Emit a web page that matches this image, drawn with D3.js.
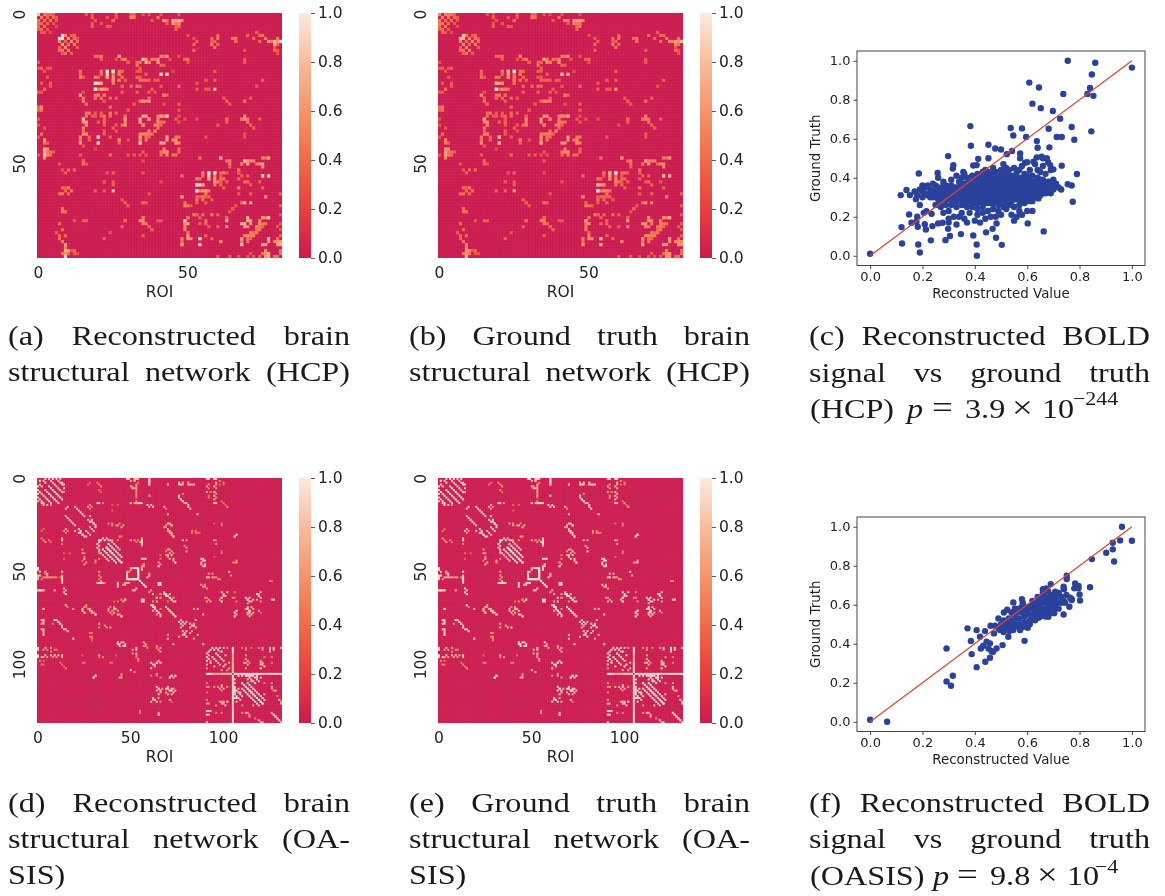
<!DOCTYPE html>
<html>
<head>
<meta charset="utf-8">
<script src="https://cdn.jsdelivr.net/npm/d3@7"></script>
<style>
body { margin: 0; background: #fff; }
svg { display: block; filter: blur(0.45px); }
</style>
</head>
<body>
<div id="charts"></div>
<script>
// matrix sizes
var hcpSize = 82;
var oasisSize = 132;

// [row, col, reconstructed, ground truth], matrices are symmetric so each pair is listed once
var hcpCells = [
[0,0,.85,.55],[0,2,.45,.5],[0,3,.5,.55],[0,4,.4,.45],[1,1,.5,.5],[1,3,.4,.45],[1,5,.4,.4],[1,6,.3,.35],[2,2,.4,.4],[2,4,.45,.45],[3,3,.35,.4],[3,5,.3,.3],[2,6,.3,.3],[4,6,.25,.25],[3,0,.4,.45],[5,0,.35,.35],
[7,8,1,.85],[7,9,.55,.5],[8,8,.9,.75],[8,10,.65,.55],[8,12,.45,.45],[9,9,.4,.4],[9,11,.6,.55],[9,13,.45,.45],[10,10,.45,.4],[10,12,.5,.5],[7,11,.35,.35],[12,7,.4,.4],[12,8,.45,.45],[13,8,.3,.35],[11,13,.35,.35],
[0,16,.3,.3],[0,18,.3,.3],[0,26,.35,.35],[0,31,.4,.4],[0,32,.4,.4],[0,37,.3,.3],[0,41,.3,.3],[0,47,.3,.3],[1,18,.35,.35],[1,23,.3,.3],[1,26,.3,.3],[1,31,.45,.45],[2,19,.3,.3],[2,25,.3,.3],[2,42,.45,.45],[2,43,.45,.45],[2,45,.3,.3],[2,46,.7,.65],[2,47,.7,.65],[2,48,.6,.55],[3,18,.3,.3],[3,46,.45,.45],[3,47,.45,.45],[3,43,.35,.35],[4,24,.3,.3],[4,47,.45,.45],[4,46,.4,.4],[4,23,.35,.35],[5,46,.35,.35],
[7,70,.4,.4],[8,52,.3,.3],[8,60,.45,.45],[8,65,.4,.4],[8,72,.4,.4],[8,80,.45,.45],[9,53,.35,.35],[9,59,.4,.4],[9,66,.45,.45],[9,74,.4,.4],[9,78,.5,.5],[9,80,.6,.55],[9,81,.7,.65],[10,58,.55,.5],[10,60,.4,.4],[10,80,.45,.45],[11,59,.45,.45],[11,79,.3,.3],[12,80,.3,.3],[13,80,.3,.3],
[14,27,.75,.6],[15,29,.55,.5],[16,30,.5,.45],[15,26,.3,.3],[15,35,.85,.7],[16,36,.75,.6],[15,38,.55,.5],[15,40,.65,.55],[16,40,.5,.45],[14,42,.45,.45],[14,43,.35,.35],[16,33,.45,.4],[17,42,.35,.35],[16,37,.4,.4],[18,34,.35,.35],
[19,14,.45,.4],[20,14,.4,.4],[21,14,.5,.45],[21,15,.35,.35],[20,41,.95,.75],[20,43,.7,.6],[19,34,.35,.35],[21,34,.35,.35],[22,34,.45,.4],[22,36,.45,.4],[22,37,.35,.35],[22,39,.35,.35],[19,27,.5,.45],[19,28,.35,.35],[20,27,.35,.35],[21,28,.45,.4],[22,27,.35,.35],[22,29,.35,.35],[19,21,.55,.5],[20,21,.45,.4],
[19,23,.9,.7],[19,25,1,1],[21,23,.75,.6],[22,25,.65,.55],[20,25,.5,.45],[23,19,.95,.75],[23,20,.9,.7],[23,21,.65,.55],[25,19,1,1],[25,21,.65,.55],[25,22,.6,.5],[25,23,.5,.45],
[24,34,.4,.4],[25,38,.35,.35],[26,39,.3,.3],[27,42,.55,.5],[27,43,.4,.4],[27,14,.65,.55],[28,15,.45,.4],[30,16,.35,.35],[28,19,.4,.4],[27,22,.45,.4],[28,24,.4,.4],[27,20,.5,.45],[28,26,.35,.35],[29,35,.8,.65],[29,37,.65,.55],[29,34,.45,.4],[30,32,.35,.35],[32,30,.3,.3],[30,42,.3,.3],[31,24,.45,.4],
[35,15,.85,.7],[34,16,.45,.4],[33,17,.5,.45],[33,19,.35,.35],[33,21,.4,.35],[33,24,.5,.45],[33,26,.35,.35],[34,35,.8,.65],[35,37,.65,.55],[34,41,.55,.5],[34,42,.55,.5],[34,43,.7,.6],[36,15,.6,.5],[37,16,.55,.5],[36,34,.75,.6],[37,35,.6,.5],[36,40,.55,.5],[36,42,.45,.45],[35,29,.6,.5],[36,29,.55,.5],[37,28,.45,.4],[35,22,.4,.35],[36,20,.35,.35],[37,26,.35,.35],[37,39,.55,.5],[38,40,.45,.4],
[39,15,.45,.4],[40,16,.6,.55],[41,14,.55,.5],[43,14,.7,.6],[41,20,.9,.8],[43,20,.9,.75],[41,17,.4,.4],[40,22,.35,.35],[41,24,.35,.35],[42,27,.55,.5],[40,34,.55,.5],[40,35,.55,.5],[40,36,.5,.5],[40,37,.5,.5],[39,39,.45,.45],[41,34,.65,.55],[43,34,.85,.7],[41,36,.45,.45],[41,37,.4,.4],[41,43,.8,.7],[42,43,.7,.6],[41,46,.45,.45],[41,47,.45,.45],[43,46,.5,.5],[43,47,.55,.5],[42,46,.45,.45],
[45,42,.55,.5],[46,43,.6,.55],[46,42,.6,.55],[47,45,.45,.4],[46,47,.45,.4],[47,24,.45,.4],[47,30,.35,.35],[47,32,.35,.35],[47,34,.3,.3],[46,35,.35,.35],[47,36,.3,.3],[47,14,.3,.3],[45,19,.25,.25],[44,15,.3,.3],
[18,1,.35,.35],[18,4,.35,.35],[21,3,.3,.3],[25,2,.4,.4],[31,1,.55,.5],[32,1,.5,.45],[40,1,.45,.45],[42,2,.65,.55],[45,2,.75,.6],[45,3,.65,.55],[47,2,.85,.65],[47,3,.55,.45],[35,0,.3,.3],[38,2,.3,.3],
[15,49,.55,.45],[15,50,.45,.4],[25,59,.85,.7],[25,53,.35,.35],[25,56,.35,.35],[25,57,.35,.35],[19,59,.35,.35],[22,59,.35,.35],[22,56,.3,.3],[23,53,.3,.3],[28,62,.35,.35],[29,63,.35,.35],[29,69,.35,.35],[28,71,.35,.35],[34,69,.65,.55],[35,68,.55,.5],[35,70,.5,.45],[35,63,.35,.35],[37,71,.35,.35],[38,72,.3,.3],[37,60,.3,.3],[35,74,.35,.35],[40,69,.3,.3],[41,69,.3,.3],[41,56,.3,.3],[35,53,.3,.3],[35,49,.3,.3],[15,69,.35,.35],[22,75,.35,.35],[24,73,.3,.3],
[48,54,.5,.45],[48,61,.7,.6],[49,64,.55,.5],[50,64,.5,.45],[49,69,.85,.7],[50,70,.75,.6],[49,72,.55,.5],[50,74,.65,.55],[50,75,.65,.55],[48,76,.45,.45],[48,77,.4,.4],[50,68,.45,.4],[53,67,.4,.4],[54,68,.35,.35],[56,70,.4,.4],[57,71,.35,.35],[54,75,.95,.75],[54,77,.7,.6],[53,62,.5,.45],[53,63,.35,.35],[54,61,.35,.35],[55,62,.45,.4],[56,61,.35,.35],[56,63,.35,.35],[53,55,.55,.5],[54,55,.45,.4],
[53,57,.9,.7],[53,59,1,1],[55,57,.75,.6],[56,59,.65,.55],[54,59,.5,.45],[57,53,.95,.75],[57,54,.9,.7],[57,55,.65,.55],[59,53,1,1],[59,55,.65,.55],[59,56,.6,.5],[59,57,.5,.45],
[61,48,.65,.55],[63,49,.45,.4],[64,51,.35,.35],[61,53,.4,.4],[61,55,.45,.4],[60,56,.5,.45],[61,57,.4,.4],[62,58,.35,.35],[63,69,.8,.65],[63,71,.65,.55],[61,76,.55,.5],[65,65,.35,.35],[64,66,.3,.3],[63,68,.45,.4],
[69,49,.85,.7],[68,50,.45,.4],[67,52,.5,.45],[67,53,.35,.35],[67,55,.4,.35],[67,58,.5,.45],[67,60,.35,.35],[68,70,.8,.65],[69,71,.65,.55],[68,75,.55,.5],[68,76,.55,.5],[68,77,.7,.6],[70,49,.6,.5],[71,49,.55,.5],[70,69,.75,.6],[71,70,.6,.5],[70,74,.55,.5],[70,76,.45,.45],[69,56,.4,.35],[70,54,.35,.35],[71,60,.35,.35],[71,73,.55,.5],[72,73,.45,.4],
[73,50,.45,.4],[75,51,.6,.55],[75,48,.55,.5],[77,48,.7,.6],[75,54,.9,.8],[77,54,.9,.75],[74,56,.35,.35],[75,58,.35,.35],[76,61,.55,.5],[74,69,.55,.5],[74,70,.55,.5],[74,71,.5,.5],[74,72,.5,.5],[73,73,.45,.45],[75,68,.65,.55],[77,68,.85,.7],[75,70,.45,.45],[75,71,.4,.4],[75,77,.8,.7],[76,77,.7,.6],[76,80,.7,.6],[76,81,.65,.55],[77,80,.6,.55],[77,81,.5,.45],[75,80,.45,.45],
[79,76,.55,.5],[80,77,.7,.6],[81,77,.75,.6],[80,76,.6,.55],[81,79,.45,.4],[80,81,.45,.4],[81,60,.35,.35],[81,64,.35,.35],[81,67,.3,.3],[81,70,.3,.3],[81,72,.3,.3],[81,74,.35,.35],[80,71,.3,.3],
[58,8,.4,.4],[58,9,.35,.35],[60,7,.4,.4],[66,8,.5,.45],[65,8,.45,.4],[66,9,.4,.4],[76,8,.5,.45],[77,9,.65,.55],[75,7,.45,.4],[74,7,.4,.4],[73,6,.35,.35],[79,9,.75,.65],[81,9,.95,.8],[79,10,.65,.55],[79,12,.4,.4],[52,10,.4,.4],[52,12,.4,.4],[50,7,.3,.3],
[69,35,.65,.55],[68,35,.45,.4],[70,36,.5,.45],[72,38,.35,.35],[71,37,.35,.35],[69,29,.45,.4],[63,29,.35,.35],[64,30,.35,.35],[63,35,.4,.4],[63,36,.35,.35],[69,16,.35,.35],[49,15,.35,.35],[50,16,.3,.3],[69,12,.3,.3],[56,22,.3,.3]
];

var oasisCells = [
[0,4,.9,.95],[0,6,.95,.95],[0,8,.95,.95],[0,10,.9,.95],[0,12,.8,.85],[1,3,.85,.9],[1,7,.9,.9],[1,11,.85,.9],[2,13,.95,.95],[4,6,1,1],[5,7,1,1],[6,8,1,1],[7,9,1,1],[8,10,1,1],[9,11,1,1],[10,12,1,1],[11,13,.95,1],[2,8,.9,.95],[3,9,.95,.95],[4,10,.9,.95],[5,11,.95,.95],[6,12,.9,.95],[7,13,.9,.95],[2,12,.9,.9],[3,13,.9,.9],[1,1,.9,.9],[2,4,.9,.95],[14,3,.9,.95],[14,5,.85,.9],[14,7,.55,.6],
[3,33,.55,.6],[4,34,.5,.55],[6,33,.5,.55],[7,34,.4,.45],[2,28,.4,.45],[3,27,.4,.45],[13,33,.7,.75],[13,32,.8,.8],
[0,48,1,1],[0,52,.85,.95],[0,53,.85,.95],[1,52,.5,.7],[4,50,.8,.9],[5,51,.9,.95],[4,53,.6,.7],[6,53,.55,.6],[8,53,.5,.55],[10,53,.5,.55],[12,53,.5,.55],[13,50,.8,.85],[13,52,.6,.7],[13,53,.9,.95],[13,54,.8,.9],[13,55,.6,.7],[2,54,.5,.6],
[0,60,.9,.95],[1,60,.8,.85],[2,60,.85,.9],[3,60,.7,.7],[9,60,.6,.6],[14,59,.95,.95],[14,61,.9,.95],[15,62,.85,.9],[3,70,.7,.75],[2,76,.9,.95],[3,77,.9,.95],[2,78,.85,.9],[2,81,.8,.9],[3,82,.8,.85],[3,84,.85,.9],[9,76,.6,.7],[10,76,.8,.85],[11,77,.85,.85],[12,78,.9,.9],[13,80,.85,.9],[14,81,.85,.9],[16,82,.85,.9],[19,86,.6,.7],[15,68,.8,.85],[16,69,.5,.5],
[0,92,.9,.95],[0,96,.9,.95],[3,92,.6,.65],[5,92,.55,.65],[7,93,.5,.6],[3,96,.6,.7],[5,96,.6,.7],[8,96,.6,.7],[10,96,.55,.65],[13,96,.8,.85],[9,92,.5,.6],[3,98,.4,.45],[3,100,.4,.45],[12,99,.4,.45],[15,102,.4,.5],[14,101,.35,.45],
[15,20,.8,.9],[16,21,.9,.95],[17,22,.9,.95],[18,23,.95,.95],[19,24,.9,.95],[20,25,.85,.9],[15,27,.8,.85],[20,28,.85,.9],[22,29,.9,.95],[24,30,.9,.95],[26,31,.85,.9],[22,27,.85,.9],[23,28,.9,.95],[28,26,.85,.9],[29,27,.9,.9],[30,28,.85,.9],[29,23,.9,.95],[30,24,.95,.95],[31,25,.9,.95],[16,28,.6,.7],[15,16,.85,.9],[28,14,.7,.75],[29,15,.5,.6],
[24,38,.6,.7],[24,40,.6,.7],[25,43,.8,.9],[26,45,.7,.85],[17,40,.3,.35],[24,71,.9,.9],[25,72,.9,.95],[25,69,.7,.8],[27,70,.7,.8],[28,71,.8,.9],[29,72,.8,.9],[31,73,.8,.85],[28,83,.5,.6],[28,85,.5,.55],[29,86,.5,.6],[24,99,.4,.5],[31,106,.9,.9],[30,107,.8,.85],[26,68,.6,.7],
[32,2,.5,.6],[34,4,.5,.55],[33,13,.9,.9],[35,13,.5,.6],[40,25,.6,.7],[42,25,.5,.6],[44,24,.5,.55],[46,25,.7,.8],[45,31,.5,.6],[40,14,.35,.4],[43,14,.3,.35],
[32,35,.95,.95],[32,37,.9,.95],[33,33,.9,.9],[33,39,.9,.9],[34,40,.85,.9],[35,41,.8,.85],[36,42,.85,.9],[37,43,.9,.9],[38,44,.85,.9],[33,43,.5,.6],[31,44,.7,.8],[34,33,1,1],[36,33,.9,.95],[38,33,.85,.9],[40,33,.6,.7],[35,38,1,1],[36,39,1,1],[37,40,1,1],[38,41,1,1],[39,42,1,1],[40,43,1,1],[41,44,1,1],[42,45,.95,1],[37,37,1,1],[38,38,1,1],[39,39,1,1],[40,40,1,1],[41,41,1,1],[42,42,1,1],[43,43,1,1],[44,44,.95,1],[45,45,.9,.95],
[33,56,1,1],[34,56,1,1],[35,56,.9,1],[33,50,.4,.5],[34,53,.5,.6],[34,55,.6,.7],[33,52,.4,.5],
[39,69,.6,.7],[38,71,.6,.7],[40,73,.5,.6],[41,69,.6,.7],[43,71,.8,.9],[45,74,.9,.95],[44,73,.7,.8],[42,70,.65,.75],[36,79,.6,.7],[39,80,.6,.7],[43,88,.9,.95],[44,89,.85,.9],[45,88,.9,.95],[46,90,.9,.95],[47,89,.85,.9],[46,66,.7,.75],[45,65,.6,.7],[47,65,.8,.85],[41,66,.4,.5],[45,105,.5,.6],[45,107,.7,.8],[39,99,.4,.5],[33,96,.4,.5],
[48,50,.8,.85],[48,51,.75,.8],[48,52,.75,.8],[48,53,.8,.85],[48,54,1,1],[49,54,1,1],[50,54,1,1],[51,54,1,1],[52,54,1,1],[53,54,1,1],[54,49,1,1],[54,50,1,1],[54,51,1,1],[54,52,1,1],[54,53,1,1],[52,48,1,1],[53,48,.95,1],[50,49,.6,.7],[54,54,1,1],[55,55,1,1],[56,56,1,1],[57,57,1,1],[58,58,.95,1],[53,59,.9,.95],[52,60,.7,.7],[43,56,.9,.95],[46,57,.9,.95],[47,56,.8,.95],[49,56,.7,.85],
[56,65,1,1],[56,66,1,1],[57,65,1,1],[57,66,1,1],[57,43,.9,.95],[58,43,.9,.95],[57,46,.6,.7],[57,47,.75,.8],[56,48,.7,.9],[65,47,.9,.95],[66,43,.5,.6],[65,45,.5,.6],
[56,32,.7,.8],[56,33,.95,1],[56,34,.95,1],[56,35,.8,.95],[56,36,.5,.7],[50,33,.6,.7],[52,33,.5,.6],[54,33,.5,.55],
[49,0,.9,.95],[50,1,.8,.85],[52,1,.85,.9],[52,5,.7,.85],[53,7,.6,.7],[53,0,.8,.9],[53,3,.7,.8],[53,5,.7,.8],[53,9,.6,.75],[50,13,.8,.85],[53,13,.75,.85],[54,13,.9,1],[55,13,.9,.95],[56,13,.7,.85],[54,0,.8,.9],[51,4,.5,.6],
[60,1,.95,1],[60,2,.9,.95],[60,3,.8,.9],[60,0,.8,.85],[60,9,.6,.7],[60,15,.8,.9],[62,15,.8,.9],[60,51,.7,.75],[60,52,.8,.85],
[62,68,.85,.9],[63,69,.9,.95],[64,71,.9,.95],[65,72,.9,.95],[66,73,.85,.9],[62,71,.8,.85],[64,73,.7,.8],[60,61,.7,.75],[62,62,.75,.8],[64,64,.8,.85],[62,66,.7,.75],[64,66,.8,.85],
[68,61,.95,.95],[69,62,.95,1],[70,63,.95,1],[71,64,.95,1],[72,65,.9,.95],[74,66,.85,.9],[69,69,.9,.95],[70,70,.9,.95],[71,71,.9,.95],[72,72,.85,.9],[73,73,.85,.9],[74,74,.85,.85],[70,66,.5,.6],
[76,77,.85,.9],[77,78,.9,.95],[78,79,.85,.9],[76,85,.8,.85],[78,84,.8,.85],[79,83,.85,.85],[80,82,.85,.9],[80,77,.8,.85],[82,78,.85,.9],[84,79,.9,.95],[85,80,.9,.95],[82,83,.7,.8],[84,86,.7,.8],
[70,38,.7,.8],[70,41,.9,.9],[72,39,.7,.85],[71,40,.65,.75],[72,41,.85,.85],[73,43,.9,.95],[74,45,.85,.9],[70,24,.85,.9],[72,25,.8,.85],[69,26,.5,.6],[70,28,.7,.8],[71,29,.8,.85],[72,30,.85,.9],[73,31,.85,.9],[68,15,.7,.85],[70,19,.8,.85],[70,3,.8,.9],
[76,3,.85,.9],[78,3,.7,.85],[81,3,.8,.9],[83,3,.75,.9],[78,8,.5,.6],[76,9,.9,.95],[77,11,.8,.9],[78,12,.85,.9],[79,13,.8,.9],[81,15,.8,.85],[82,16,.7,.85],[86,19,.7,.85],[83,29,.5,.6],[85,29,.5,.6],[87,29,.4,.5],[78,33,.8,.85],[80,33,.6,.8],[80,37,.7,.85],[80,39,.5,.7],
[89,43,.9,.95],[90,44,.9,.95],[88,46,.8,.9],[90,47,.9,.95],[88,57,.8,.95],[90,58,.7,.8],[90,64,.6,.7],[91,66,.7,.75],[89,73,.8,.9],[84,70,.7,.8],[86,70,.8,.9],[89,89,.8,.85],
[91,0,.9,.95],[91,4,.7,.75],[91,7,.7,.75],[92,10,.5,.6],[95,0,.95,1],[96,2,.85,.9],[95,4,.85,.9],[95,7,.9,.95],[95,9,.9,.95],[95,11,.85,.9],[95,13,.95,.95],[100,2,.5,.65],[98,1,.5,.6],[100,13,.5,.65],[102,15,.5,.7],[99,25,.5,.6],[95,33,.8,.9],[96,35,.6,.7],[99,40,.4,.5],[95,42,.3,.4],[95,24,.3,.4],
[91,53,.9,.95],[94,51,.7,.8],[95,53,.6,.7],[97,54,.6,.7],[104,52,.6,.75],[91,64,.5,.6],
[99,61,.9,.95],[100,62,.9,.95],[99,64,.9,.95],[102,61,.9,.95],[101,63,.75,.85],[99,66,.6,.7],[106,72,.8,.9],[106,74,.8,.9],[107,71,.8,.85],[106,61,.5,.6],[106,64,.5,.6],[107,30,.9,.95],[106,31,.8,.85],[107,44,.7,.8],[106,45,.6,.7],
[112,64,.95,.95],[113,65,.95,1],[114,64,.85,.9],[115,66,.8,.85],[113,69,.9,.95],[114,71,.95,.95],[115,73,.9,.95],[112,70,.85,.9],[113,72,.85,.9],[115,69,.75,.8],[118,62,.9,.95],[120,61,.8,.9],[119,63,.7,.85],[119,71,.85,.9],[120,72,.4,.5],[126,55,.5,.6],[126,65,.8,.9],[127,65,.7,.85],
[91,94,.9,.95],[91,96,.95,1],[91,98,.9,.95],[91,100,.8,.9],[91,102,.6,.7],[93,92,.95,1],[95,92,.95,1],[97,92,.95,1],[99,93,.9,1],[101,95,.85,.9],[94,96,.95,1],[95,97,.95,1],[96,98,.9,.95],[97,99,.9,.95],[98,100,.85,.9],[100,101,.9,1],[99,103,.7,.8],[102,103,.7,.8],[92,97,.85,.85],[93,98,.6,.7],
[91,105,1,1],[92,105,.95,1],[99,105,.85,.95],[100,105,.9,.95],[101,105,.9,1],[102,105,.95,1],[103,105,.95,1],[104,105,.9,.95],
[105,92,1,1],[105,93,1,1],[105,94,.95,1],[105,95,.7,.8],[105,96,.7,.8],[105,97,.8,.9],[105,98,.7,.8],[105,99,.7,.8],[105,100,.75,.85],[105,101,.75,.85],[105,102,.75,.85],[105,103,.7,.8],
[105,106,1,1],[105,107,1,1],[105,108,1,1],[105,109,1,1],[105,110,.95,.95],[105,111,.95,.95],[105,112,.95,.95],[105,113,1,1],[105,114,1,1],[105,115,1,1],[105,116,1,1],[105,117,1,1],[105,118,1,1],[105,119,1,1],[105,120,.95,.95],[105,121,.95,.95],[105,122,.9,.95],[105,123,.9,.95],[105,124,.9,.95],[105,125,.9,.95],[105,126,.95,.95],[105,127,1,1],[105,128,1,1],[105,129,1,1],[105,130,1,1],[105,131,1,1],
[106,113,.95,.95],[106,115,1,1],[106,118,1,1],[107,114,1,1],[107,117,1,1],[108,115,.9,.95],[108,118,1,1],[109,116,.9,.95],[109,119,.85,.9],[110,110,1,1],[111,111,1,1],[112,112,1,1],[113,113,1,1],[114,114,1,1],[115,115,1,1],[116,116,1,1],[117,117,1,1],[118,118,1,1],[119,119,1,1],[120,120,1,1],[121,121,.95,1],[110,113,.95,1],[111,114,1,1],[112,115,1,1],[113,116,1,1],[114,117,1,1],[115,118,1,1],[116,119,1,1],[117,120,1,1],[118,121,.95,.95],[119,122,.9,.95],[108,106,1,1],[110,106,.9,1],[112,106,1,1],[114,106,1,1],[116,106,1,1],[118,107,.9,1],[120,107,.9,.95],[113,108,.9,.95],[115,109,.95,1],[117,110,.9,.95],[110,122,.5,.6],[116,122,.7,.8],
[95,112,.7,.75],[97,112,.75,.8],[99,112,.8,.85],[98,113,.75,.8],[100,113,.8,.85],[91,110,.5,.6],[91,112,.5,.6],[91,115,.45,.55],[91,119,.6,.7],[91,121,.75,.85],[91,127,1,1],[92,127,.85,.95],[91,131,.6,.7],[100,120,.85,.9],[101,122,.85,.9],[99,121,.75,.85],[98,120,.7,.8],[96,122,.55,.65],[102,120,.6,.7],
[64,99,.9,.95],[65,98,.8,.85],[63,100,.8,.9],[66,99,.9,.9],[65,113,.9,.95],[66,114,.95,.95],[65,116,.85,.9],[67,113,.7,.8],[70,113,.95,.95],[71,114,.9,.95],[72,114,.95,.95],[73,113,.8,.85],[70,116,.8,.85],[72,116,.85,.85],[74,114,.8,.85],[72,106,.95,.95],[71,107,.85,.9],[73,107,.8,.9],[74,106,.85,.9],[63,119,.9,.95],[64,120,.85,.9],[62,119,.6,.7],[66,120,.6,.7],[65,118,.7,.8],[65,127,.85,.9],[64,105,.6,.65],[66,107,.5,.6],[65,92,.6,.7],[66,93,.7,.8],
[51,92,.7,.8],[53,92,.9,.95],[53,94,.8,.85],[53,96,.6,.65],[54,98,.5,.55],[50,103,.9,.9],[55,125,.55,.6],[57,90,.6,.7],[58,89,.7,.75],[59,91,.6,.65],
[112,92,.6,.65],[112,97,.6,.7],[111,99,.7,.7],[112,102,.7,.75],[114,99,.5,.6],[121,92,.6,.7],[120,99,.7,.85],[121,100,.8,.9],[120,102,.8,.9],[125,91,.9,1],[125,92,.9,1],[125,93,.8,.9],[131,91,.8,.85],[126,96,.5,.55],[126,99,.5,.55],[126,112,.85,.9],[127,114,.6,.7],[126,110,.6,.7],[130,119,.8,.85],[131,120,.7,.8],[129,117,.5,.6],
[126,126,.75,.85],[127,127,.85,.9],[128,128,.85,.9],[129,129,.85,.9],[130,130,.85,.9],[131,131,.7,.8],[113,126,.7,.85],[114,128,.8,.85],[119,130,.7,.8],[121,131,.8,.85]
];

// scatter points [reconstructed value, ground truth] (c) and (f)
var hcpPoints = [
[0,.01],[1,.965],[.755,1],[.86,.99],[.847,.93],[.608,.888],[.645,.863],[.84,.86],[.738,.83],[.83,.83],[.853,.82],[.62,.78],[.652,.757],[.698,.742],[.726,.703],[.383,.665],[.537,.655],[.58,.653],[.682,.651],[.77,.66],[.845,.638],[.547,.617],[.596,.609],[.713,.609],[.732,.609],[.78,.595],[.637,.588],[.385,.564],[.452,.569],[.478,.55],[.5,.545],[.64,.554],[.685,.556],[.542,.537],[.522,.521],[.298,.511],[.413,.497],[.452,.5],[.573,.525],[.573,.5],[.675,.5],[.655,.508],[.636,.504],[.624,.482],[.592,.477],[.318,.465],[.394,.463],[.407,.465],[.509,.47],[.688,.465],[.732,.462],[.7,.443],[.316,.447],[.258,.425],[.186,.422],[.79,.419],[.356,.43],
[.117,.311],[.139,.337],[.152,.311],[.149,.212],[.12,.147],[.122,.063],[.184,.058],[.19,.017],[.232,.079],[.288,.08],[.305,.101],[.347,.111],[.394,.104],[.407,.058],[.408,0],[.503,.056],[.481,.092],[.443,.12],[.468,.138],[.483,.166],[.602,.166],[.663,.125],[.774,.277],[.643,.294],[.755,.367],[.77,.36],[.298,.138],[.238,.152],[.213,.135],[.182,.149],[.177,.174],[.158,.169],[.209,.162],[.26,.166],[.277,.169],[.18,.2],[.205,.22],[.19,.26],[.235,.215],[.215,.228],[.19,.34],[.17,.33],[.18,.31],[.2,.3],[.2,.36],[.175,.29],[.25,.26],[.27,.25],
// sparse lower cloud
[.3,.23],[.32,.2],[.34,.2],[.36,.19],[.37,.17],[.4,.18],[.42,.17],[.44,.19],[.46,.2],[.48,.2],[.5,.21],[.54,.21],[.56,.2],[.55,.18],[.58,.21],[.57,.23],[.6,.23],[.62,.23],[.52,.24],[.3,.17],[.33,.16],[.35,.22],[.38,.22],[.41,.21],[.43,.22],[.45,.23],[.47,.24],[.49,.23],[.51,.25],[.53,.26],[.55,.25],[.57,.26],[.59,.27],[.61,.28],[.39,.25],[.37,.25],[.35,.26],[.33,.25],[.31,.26],[.29,.26],[.27,.28],[.41,.24],[.43,.25],[.28,.22],[.3,.19],
// dense band
[.2,.33],[.21,.35],[.22,.31],[.23,.34],[.24,.3],[.25,.33],[.26,.29],[.26,.35],[.27,.32],[.28,.3],[.29,.34],[.3,.29],[.3,.32],[.31,.36],[.32,.3],[.32,.33],[.33,.28],[.33,.35],[.34,.31],[.34,.38],[.35,.29],[.35,.34],[.36,.27],[.36,.32],[.36,.37],[.37,.3],[.37,.35],[.37,.4],[.38,.28],[.38,.33],[.38,.38],[.39,.31],[.39,.36],[.39,.41],[.4,.27],[.4,.29],[.4,.34],[.4,.39],[.41,.32],[.41,.37],[.41,.42],[.42,.28],[.42,.3],[.42,.35],[.42,.4],[.43,.33],[.43,.38],[.43,.43],[.44,.27],[.44,.31],[.44,.36],[.44,.41],[.45,.29],[.45,.34],[.45,.39],[.46,.27],[.46,.32],[.46,.37],[.46,.42],[.47,.3],[.47,.35],[.47,.4],[.47,.45],[.48,.28],[.48,.33],[.48,.38],[.48,.43],[.49,.26],[.49,.31],[.49,.36],[.49,.41],[.5,.29],[.5,.34],[.5,.39],[.5,.44],[.51,.27],[.51,.32],[.51,.37],[.51,.42],[.52,.3],[.52,.35],[.52,.4],[.53,.28],[.53,.33],[.53,.38],[.53,.44],[.54,.31],[.54,.36],[.54,.41],[.55,.29],[.55,.34],[.55,.39],[.56,.32],[.56,.37],[.56,.43],[.57,.3],[.57,.35],[.57,.4],[.58,.28],[.58,.33],[.58,.38],[.59,.31],[.59,.36],[.59,.42],[.6,.29],[.6,.34],[.6,.39],[.61,.32],[.61,.37],[.62,.3],[.62,.35],[.62,.41],[.63,.33],[.63,.38],[.64,.31],[.64,.36],[.64,.44],[.65,.34],[.65,.39],[.66,.32],[.66,.37],[.66,.46],[.67,.35],[.67,.42],[.68,.33],[.68,.38],[.69,.36],[.69,.44],[.7,.34],[.7,.39],[.71,.37],[.72,.35],[.68,.48],[.66,.5],[.61,.44],[.63,.47],[.55,.45],[.58,.46],[.6,.48],[.44,.44],[.36,.42],[.33,.41],[.31,.39],[.28,.38],[.26,.4],[.24,.37],[.22,.36],[.35,.4],[.45,.43],[.52,.45],[.57,.44],[.73,.34],[.65,.43],[.69,.32],[.64,.4],[.62,.28],[.52,.27],[.44,.29],[.38,.3],[.34,.33],[.29,.31],[.25,.31],[.23,.32],
// gaps of the solid core
[.21,.32],[.23,.3],[.24,.33],[.25,.36],[.26,.32],[.27,.34],[.27,.3],[.28,.33],[.28,.36],[.29,.29],[.29,.36],[.3,.34],[.31,.31],[.31,.33],[.32,.35],[.32,.28],[.33,.3],[.33,.32],[.34,.29],[.34,.35],[.35,.31],[.35,.36],[.36,.29],[.36,.34],[.37,.28],[.37,.32],[.37,.37],[.38,.3],[.38,.35],[.39,.27],[.39,.29],[.39,.33],[.39,.38],[.4,.31],[.4,.36],[.41,.27],[.41,.29],[.41,.34],[.41,.39],[.42,.32],[.42,.37],[.43,.27],[.43,.3],[.43,.35],[.43,.4],[.44,.33],[.44,.38],[.45,.27],[.45,.31],[.45,.36],[.45,.41],[.46,.29],[.46,.34],[.46,.39],[.47,.27],[.47,.32],[.47,.37],[.47,.42],[.48,.3],[.48,.35],[.48,.4],[.49,.28],[.49,.33],[.49,.38],[.5,.27],[.5,.31],[.5,.36],[.5,.41],[.51,.29],[.51,.34],[.51,.39],[.52,.28],[.52,.32],[.52,.37],[.52,.42],[.53,.3],[.53,.35],[.53,.4],[.54,.28],[.54,.33],[.54,.38],[.55,.31],[.55,.36],[.55,.41],[.56,.29],[.56,.34],[.56,.39],[.57,.32],[.57,.37],[.58,.3],[.58,.35],[.58,.4],[.59,.33],[.59,.38],[.6,.31],[.6,.36],[.6,.41],[.61,.34],[.61,.39],[.62,.32],[.62,.37],[.63,.3],[.63,.35],[.64,.33],[.64,.38],[.65,.31],[.65,.36],[.66,.34],[.66,.39],[.67,.32],[.67,.37],[.68,.35],[.69,.34],[.69,.38],[.7,.36]
];

var oasisPoints = [
[0,.01],[.065,0],[.292,.376],[.292,.207],[.316,.236],[.309,.185],[.372,.479],[.407,.47],[.385,.414],[.388,.347],[.407,.28],[.44,.308],[.458,.328],[.42,.436],[.439,.465],[.423,.376],[.432,.39],[.445,.41],[.458,.402],[.452,.376],[.464,.362],[.47,.359],[.483,.376],[.506,.393],[.46,.492],[.477,.492],[.49,.53],[.473,.453],[.496,.47],[.509,.487],[.522,.504],[.511,.56],[.524,.574],[.547,.612],[.58,.629],[.583,.612],[.553,.581],[.592,.573],[.56,.53],[.528,.436],[.532,.465],[.547,.47],[.553,.496],[.59,.415],[.573,.47],[.585,.487],[.602,.482],[.611,.521],[.624,.538],[.643,.533],[.66,.663],[.672,.684],[.69,.706],[.72,.658],[.707,.667],[.739,.692],[.751,.749],[.751,.732],[.783,.709],[.796,.696],[.78,.684],[.796,.684],[.8,.653],[.802,.622],[.764,.636],[.77,.624],[.761,.59],[.745,.61],[.739,.55],[.703,.557],[.681,.538],[.84,.69],[.847,.834],[.902,.867],[.927,.918],[.927,.884],[.932,.822],[.955,.93],[.962,1],[1,.928],
[.51,.52],[.53,.5],[.54,.52],[.55,.55],[.56,.56],[.57,.53],[.58,.56],[.59,.54],[.6,.56],[.61,.55],[.62,.58],[.63,.56],[.64,.58],[.65,.56],[.66,.58],[.67,.56],[.68,.58],[.69,.56],[.7,.58],[.71,.6],[.72,.58],[.73,.61],[.74,.62],[.73,.64],[.72,.66],[.7,.63],[.69,.61],[.68,.63],[.67,.61],[.66,.62],[.65,.6],[.64,.61],[.63,.6],[.62,.6],[.61,.59],[.6,.58],[.59,.59],[.58,.59],[.57,.58],[.69,.65],[.68,.67],[.67,.64],[.66,.65],[.65,.63],[.64,.64],[.7,.61],[.71,.64],[.71,.62],[.53,.53],[.55,.51],[.57,.5],[.59,.51],[.61,.5],[.63,.52],[.65,.54],[.67,.54],[.52,.48],[.54,.48],[.56,.49],[.58,.49],[.5,.5],[.49,.48],[.51,.46],[.54,.56],[.62,.62],[.68,.6],[.74,.68],[.75,.65],[.77,.63],[.66,.68]
];

var lineX = [0, 1];

// first stop is value 0 of the colorbar, last is value 1
var colorStops = ["#cb1b4f", "#e83f3f", "#f06a4a", "#f5946c", "#f7bc9c", "#faebdd"];
var colorTicks = [0, 0.2, 0.4, 0.6, 0.8, 1];
var scatterTicks = [0, 0.2, 0.4, 0.6, 0.8, 1];
var hcpTicks = [0, 50];
var oasisTicks = [0, 50, 100];

var svg = d3.select("#charts").append("svg")
    .attr("width", 1165)
    .attr("height", 896)
    .attr("font-family", "DejaVu Sans");

var color = d3.scaleLinear()
    .domain(d3.range(colorStops.length).map(d => d / (colorStops.length - 1)))
    .range(colorStops);

var defs = svg.append("defs");
var grad = defs.append("linearGradient")
    .attr("id", "cbar")
    .attr("x1", 0).attr("x2", 0).attr("y1", 1).attr("y2", 0);
colorStops.forEach((c, i) => {
    grad.append("stop")
        .attr("offset", i / (colorStops.length - 1))
        .attr("stop-color", c);
});
defs.append("filter").attr("id", "soft")
    .append("feGaussianBlur").attr("stdDeviation", 0.55);

function heatmap(left, top, size, cells, which, ticks)
{
    var w = 245;
    var g = svg.append("g").attr("transform", "translate(" + left + "," + top + ")");
    var band = d3.scaleBand().domain(d3.range(size)).range([0, w]);

    g.append("rect")
        .attr("width", w).attr("height", w)
        .attr("fill", color(0));

    // every cell pair is drawn on both sides of the diagonal
    var both = [];
    cells.forEach(c => {
        both.push({r: c[0], c: c[1], v: c[which]});
        both.push({r: c[1], c: c[0], v: c[which]});
    });

    g.append("g").attr("filter", "url(#soft)")
        .selectAll("rect").data(both).enter().append("rect")
        .attr("x", d => band(d.c))
        .attr("y", d => band(d.r))
        .attr("width", band.bandwidth() + 0.1)
        .attr("height", band.bandwidth() + 0.1)
        .attr("fill", d => color(d.v));

    // faint white cell edges
    g.append("g").selectAll("line").data(d3.range(size + 1)).enter().append("line")
        .attr("x1", d => d * band.step()).attr("x2", d => d * band.step())
        .attr("y1", 0).attr("y2", w)
        .attr("stroke", "#fff").attr("stroke-opacity", 0.07).attr("stroke-width", 0.5);
    g.append("g").selectAll("line").data(d3.range(size + 1)).enter().append("line")
        .attr("y1", d => d * band.step()).attr("y2", d => d * band.step())
        .attr("x1", 0).attr("x2", w)
        .attr("stroke", "#fff").attr("stroke-opacity", 0.07).attr("stroke-width", 0.5);

    var xAxis = g.append("g")
        .attr("transform", "translate(0," + w + ")")
        .call(d3.axisBottom(band).tickValues(ticks).tickSize(0).tickPadding(9));
    xAxis.select(".domain").remove();
    xAxis.selectAll("text").attr("font-size", 15.5).attr("font-family", "DejaVu Sans").attr("fill", "#222");

    var yAxis = g.append("g")
        .call(d3.axisLeft(band).tickValues(ticks).tickSize(0).tickPadding(0));
    yAxis.select(".domain").remove();
    yAxis.selectAll("text")
        .attr("font-size", 15.5).attr("font-family", "DejaVu Sans").attr("fill", "#222")
        .attr("dy", 0).attr("x", 0)
        .attr("text-anchor", "middle")
        .attr("transform", "translate(-12,0) rotate(-90)");

    g.append("text")
        .attr("x", w / 2).attr("y", 284)
        .attr("text-anchor", "middle")
        .attr("font-size", 15.5)
        .attr("fill", "#222")
        .text("ROI");

    // colorbar
    var cb = g.append("g").attr("transform", "translate(" + (w + 17) + ",0)");
    cb.append("rect").attr("width", 12).attr("height", w).attr("fill", "url(#cbar)");
    var cbScale = d3.scaleLinear().domain([0, 1]).range([w, 0]);
    var cbAxis = cb.append("g")
        .attr("transform", "translate(12,0)")
        .call(d3.axisRight(cbScale).tickValues(colorTicks).tickFormat(d3.format(".1f")).tickSize(4).tickPadding(3));
    cbAxis.select(".domain").remove();
    cbAxis.selectAll("line").attr("stroke", "#333").attr("stroke-width", 0.8);
    cbAxis.selectAll("text").attr("font-size", 15.5).attr("font-family", "DejaVu Sans").attr("fill", "#222");
}

function scatter(top, points)
{
    var left = 857, w = 288, h = 214.5;
    var g = svg.append("g").attr("transform", "translate(" + left + "," + top + ")");
    var x = d3.scaleLinear().domain([-0.05, 1.05]).range([0, w]);
    var y = d3.scaleLinear().domain([-0.05, 1.05]).range([h, 0]);

    g.selectAll("circle").data(points).enter().append("circle")
        .attr("cx", d => x(d[0]))
        .attr("cy", d => y(d[1]))
        .attr("r", 3.2)
        .attr("fill", "#2a429c");

    var valueline = d3.line().x(d => x(d)).y(d => y(d));
    g.append("path")
        .attr("d", valueline(lineX))
        .attr("stroke", "#e8402f")
        .attr("stroke-width", 1.2)
        .attr("fill", "none");

    g.append("rect")
        .attr("width", w).attr("height", h)
        .attr("fill", "none").attr("stroke", "#444").attr("stroke-width", 1);

    var xAxis = g.append("g")
        .attr("transform", "translate(0," + h + ")")
        .call(d3.axisBottom(x).tickValues(scatterTicks).tickFormat(d3.format(".1f")).tickSize(3.5).tickPadding(3));
    var yAxis = g.append("g")
        .call(d3.axisLeft(y).tickValues(scatterTicks).tickFormat(d3.format(".1f")).tickSize(3.5).tickPadding(3));
    xAxis.select(".domain").remove();
    yAxis.select(".domain").remove();
    g.selectAll(".tick line").attr("stroke", "#444");
    g.selectAll(".tick text").attr("font-size", 13).attr("font-family", "DejaVu Sans").attr("fill", "#222");

    g.append("text")
        .attr("x", w / 2)
        .attr("y", h + 32)
        .attr("text-anchor", "middle")
        .attr("font-size", 13.4)
        .attr("fill", "#222")
        .text("Reconstructed Value");
    g.append("text")
        .attr("transform", "translate(-37," + (h / 2) + ") rotate(-90)")
        .attr("text-anchor", "middle")
        .attr("font-size", 13.4)
        .attr("fill", "#222")
        .text("Ground Truth");
}

heatmap(37, 13, hcpSize, hcpCells, 2, hcpTicks);
heatmap(438, 13, hcpSize, hcpCells, 3, hcpTicks);
heatmap(37, 478, oasisSize, oasisCells, 2, oasisTicks);
heatmap(438, 478, oasisSize, oasisCells, 3, oasisTicks);
scatter(51, hcpPoints);
scatter(517, oasisPoints);

// captions, justified lines fill the column like the typeset original
var captionFont = "Liberation Serif";
var captionSize = 28;
var stretch = 1.15;

function word(x, y, text, size, italic)
{
    var t = svg.append("text")
        .attr("x", x).attr("y", y)
        .attr("font-family", captionFont)
        .attr("font-size", size || captionSize)
        .attr("font-style", italic ? "italic" : "normal")
        .attr("fill", "#1a1a1a")
        .text(text);
    var len = t.node().getComputedTextLength() * stretch;
    t.attr("textLength", len).attr("lengthAdjust", "spacingAndGlyphs");
    return len;
}

function justified(x0, x1, y, text)
{
    var words = text.split(" ");
    var probe = words.map(w => {
        var t = svg.append("text")
            .attr("font-family", captionFont).attr("font-size", captionSize).text(w);
        var l = t.node().getComputedTextLength() * stretch;
        t.remove();
        return l;
    });
    var gap = (x1 - x0 - d3.sum(probe)) / (words.length - 1);
    var x = x0;
    words.forEach((w, i) => {
        word(x, y, w);
        x += probe[i] + gap;
    });
}

justified(8, 350, 345, "(a) Reconstructed brain");
justified(8, 350, 381, "structural network (HCP)");
justified(409, 750, 345, "(b) Ground truth brain");
justified(409, 750, 381, "structural network (HCP)");
justified(809, 1150, 345, "(c) Reconstructed BOLD");
justified(809, 1150, 382, "signal vs ground truth");
word(810, 418, "(HCP)");
word(907, 418, "p", null, true);
word(932, 418, "=", 32);
word(965, 418, "3.9");
word(1012, 418, "×", 32);
word(1042, 418, "10");
word(1073, 405, "−244", 19);

justified(8, 350, 812, "(d) Reconstructed brain");
justified(8, 350, 848, "structural network (OA-");
word(8, 884, "SIS)");
justified(409, 750, 812, "(e) Ground truth brain");
justified(409, 750, 848, "structural network (OA-");
word(409, 884, "SIS)");
justified(809, 1150, 812, "(f) Reconstructed BOLD");
justified(809, 1150, 848, "signal vs ground truth");
word(810, 885, "(OASIS)");
word(933, 885, "p", null, true);
word(957, 885, "=", 32);
word(990, 885, "9.8");
word(1037, 885, "×", 32);
word(1067, 885, "10");
word(1095, 873, "−4", 19);
</script>
</body>
</html>
